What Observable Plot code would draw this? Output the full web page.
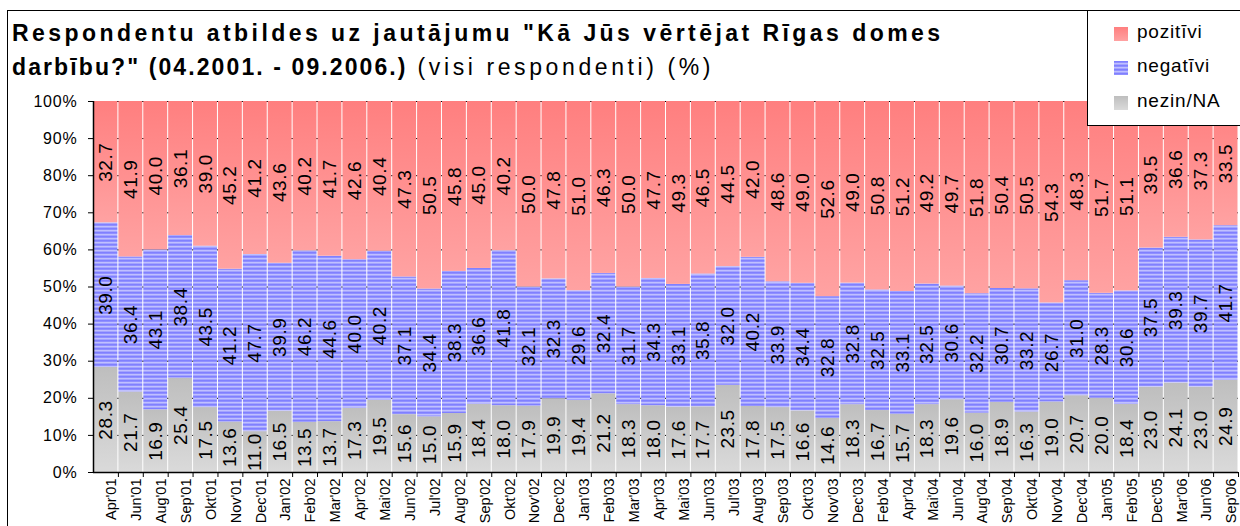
<!DOCTYPE html>
<html>
<head>
<meta charset="utf-8">
<script src="https://cdn.jsdelivr.net/npm/d3@7"></script>
<script src="https://cdn.jsdelivr.net/npm/@observablehq/plot@0.6"></script>
<style>
  html, body { margin: 0; padding: 0; background: #fff; }
  body { width: 1240px; height: 526px; overflow: hidden; position: relative; font-family: "Liberation Sans", Arial, sans-serif; }
  #frame { position: absolute; left: 7px; top: 10px; width: 1400px; height: 700px; border-left: 1px solid #000; border-top: 1px solid #000; }
  #chart { position: absolute; left: 0; top: 0; }
  #title { position: absolute; left: 12px; top: 16px; font-size: 23px; line-height: 34px; color: #000; white-space: nowrap; }
  #title .l1 { font-weight: bold; letter-spacing: 3.45px; }
  #title .l2b { font-weight: bold; letter-spacing: 2.1px; }
  #title .l2r { font-weight: normal; letter-spacing: 3.6px; }
  #legend { position: absolute; left: 1087px; top: 10px; width: 170px; height: 114px; background: #fff; border-left: 1px solid #000; border-bottom: 1px solid #000; border-top: 1px solid #000; }
  .li { position: absolute; left: 26px; font-size: 19px; letter-spacing: 0.8px; color: #000; white-space: nowrap; }
  .li svg { position: absolute; left: 0; top: 6px; }
  .li span { position: absolute; left: 23px; top: 0; }
</style>
</head>
<body>
<div id="frame"></div>
<div id="chart"></div>
<div id="title"><span class="l1">Respondentu atbildes uz jautājumu "Kā Jūs vērtējat Rīgas domes</span><br><span class="l2b">darbību?" (04.2001. - 09.2006.)</span><span class="l2r"> (visi respondenti) (%)</span></div>
<div id="legend"></div>
<script>
const dates = ["Apr'01","Jun'01","Aug'01","Sep'01","Okt'01","Nov'01","Dec'01","Jan'02","Feb'02","Mar'02","Apr'02","Mai'02","Jun'02","Jul'02","Aug'02","Sep'02","Okt'02","Nov'02","Dec'02","Jan'03","Feb'03","Mar'03","Apr'03","Mai'03","Jun'03","Jul'03","Aug'03","Sep'03","Okt'03","Nov'03","Dec'03","Feb'04","Apr'04","Mai'04","Jun'04","Aug'04","Sep'04","Okt'04","Nov'04","Dec'04","Jan'05","Feb'05","Dec'05","Mar'06","Jun'06","Sep'06"];
const pozitivi = [32.7,41.9,40.0,36.1,39.0,45.2,41.2,43.6,40.2,41.7,42.6,40.4,47.3,50.5,45.8,45.0,40.2,50.0,47.8,51.0,46.3,50.0,47.7,49.3,46.5,44.5,42.0,48.6,49.0,52.6,49.0,50.8,51.2,49.2,49.7,51.8,50.4,50.5,54.3,48.3,51.7,51.1,39.5,36.6,37.3,33.5];
const negativi = [39.0,36.4,43.1,38.4,43.5,41.2,47.7,39.9,46.2,44.6,40.0,40.2,37.1,34.4,38.3,36.6,41.8,32.1,32.3,29.6,32.4,31.7,34.3,33.1,35.8,32.0,40.2,33.9,34.4,32.8,32.8,32.5,33.1,32.5,30.6,32.2,30.7,33.2,26.7,31.0,28.3,30.6,37.5,39.3,39.7,41.7];
const nezin = [28.3,21.7,16.9,25.4,17.5,13.6,11.0,16.5,13.5,13.7,17.3,19.5,15.6,15.0,15.9,18.4,18.0,17.9,19.9,19.4,21.2,18.3,18.0,17.6,17.7,23.5,17.8,17.5,16.6,14.6,18.3,16.7,15.7,18.3,19.6,16.0,18.9,16.3,19.0,20.7,20.0,18.4,23.0,24.1,23.0,24.9];
const seriesNames = ["nezin/NA", "negatīvi", "pozitīvi"];
const legendOrder = ["pozitīvi", "negatīvi", "nezin/NA"];
const yTicks = [0, 0.1, 0.2, 0.3, 0.4, 0.5, 0.6, 0.7, 0.8, 0.9, 1];

const fills = {"nezin/NA": "url(#gGray)", "negatīvi": "url(#pBlue)", "pozitīvi": "url(#gPink)"};
const seriesValues = {"nezin/NA": nezin, "negatīvi": negativi, "pozitīvi": pozitivi};

const data = dates.flatMap((d, i) => seriesNames.map(s => ({date: d, series: s, value: seriesValues[s][i]})));

const W = 1240, H = 526, mL = 93, mR = 2, mT = 101, mB = 54;
const step = (W - mL - mR) / dates.length;
const font = '"Liberation Sans", Arial, sans-serif';

const chart = Plot.plot({
  width: W, height: H,
  marginLeft: mL, marginRight: mR, marginTop: mT, marginBottom: mB,
  style: {fontFamily: font, background: "transparent", overflow: "visible"},
  x: {type: "band", domain: dates, paddingInner: 0, paddingOuter: 0, label: null},
  y: {domain: [0, 1], label: null},
  color: {type: "ordinal", domain: seriesNames, range: seriesNames.map(s => fills[s])},
  marks: [
    Plot.gridY(yTicks, {stroke: "#000", strokeOpacity: 1, strokeWidth: 1}),
    Plot.barY(data, Plot.stackY({x: "date", y: "value", z: "series", fill: "series", offset: "normalize", order: seriesNames, insetLeft: 0.5, insetRight: 0.5})),
    Plot.text(data, Plot.stackY({x: "date", y: "value", z: "series", offset: "normalize", order: seriesNames, text: d => d.value.toFixed(1), rotate: -90, fontSize: 19, fill: "#000"})),
    Plot.axisY(yTicks, {tickSize: 5, tickPadding: 11, fontSize: 16, tickFormat: d => Math.round(d * 100) + "%", stroke: "#000", color: "#000", label: null}),
    Plot.axisX({tickSize: 0, tickPadding: 6, rotate: -90, textAnchor: "end", fontSize: 14.5, color: "#000", label: null}),
    Plot.axisX({tickSize: 5, text: null, dx: step / 2, stroke: "#000", label: null}),
    Plot.ruleY([0], {stroke: "#000", strokeWidth: 1.5}),
    Plot.ruleX([dates[0]], {x: d => d, dx: -step / 2, stroke: "#000", strokeWidth: 1.5})
  ]
});

const defsSrc = `
  <linearGradient id="gPink" x1="0" y1="0" x2="0" y2="1">
    <stop offset="0" stop-color="#FF7F7F"/><stop offset="1" stop-color="#FFA2A2"/>
  </linearGradient>
  <linearGradient id="gGray" x1="0" y1="0" x2="0" y2="1">
    <stop offset="0" stop-color="#BEBEBE"/><stop offset="1" stop-color="#DADADA"/>
  </linearGradient>
  <pattern id="pBlue" patternUnits="userSpaceOnUse" x="0" y="0" width="8" height="4">
    <rect x="0" y="0" width="8" height="1" fill="#8080FF"/>
    <rect x="0" y="1" width="8" height="1" fill="#9090FF"/>
    <rect x="0" y="2" width="8" height="1" fill="#C0C0FF"/>
    <rect x="0" y="3" width="8" height="1" fill="#A4A4FF"/>
  </pattern>`;
const svgNS = "http://www.w3.org/2000/svg";
const defs = document.createElementNS(svgNS, "defs");
defs.innerHTML = defsSrc;
chart.insertBefore(defs, chart.firstChild);
document.getElementById("chart").appendChild(chart);

const sel = d3.select(chart);
sel.selectAll('g[aria-label="text"] text').style("font-size", "19px").style("letter-spacing", "0.6px");
sel.selectAll('g[aria-label^="y-axis"] text').style("font-size", "16px").style("letter-spacing", "0.8px");
sel.selectAll('g[aria-label="x-axis tick label"] text').style("font-size", "14.5px");

// legend
const leg = document.getElementById("legend");
const rowTops = [10, 44, 79];
legendOrder.forEach((s, i) => {
  const row = document.createElement("div");
  row.className = "li";
  row.style.top = rowTops[i] + "px";
  row.innerHTML = `<svg width="14" height="14"><rect width="14" height="14" fill="${fills[s]}"/></svg><span>${s}</span>`;
  leg.appendChild(row);
});
</script>
</body>
</html>
